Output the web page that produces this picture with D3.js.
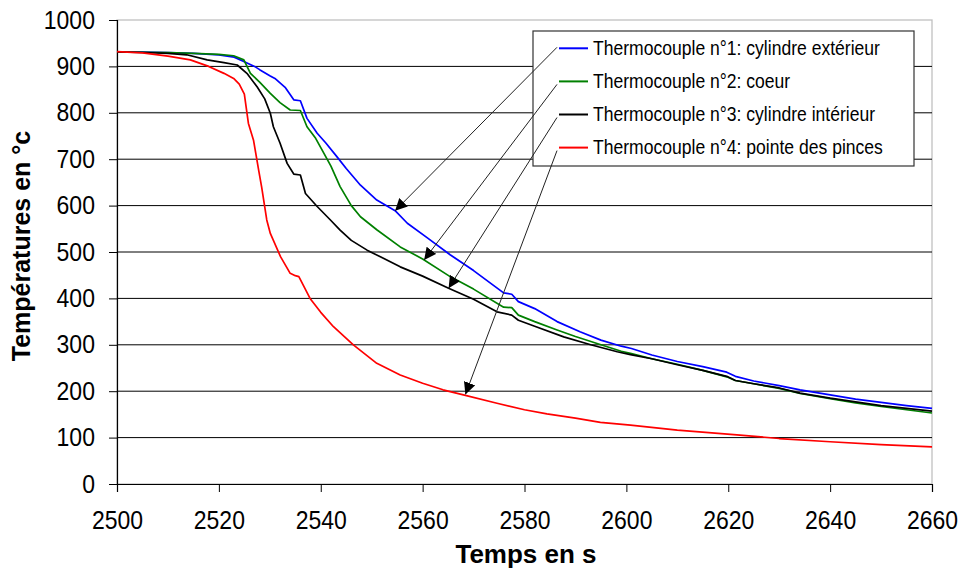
<!DOCTYPE html>
<html><head><meta charset="utf-8">
<script src="https://cdn.jsdelivr.net/npm/d3@7"></script>
<style>body{margin:0;background:#fff}svg{display:block}text{font-family:Arial,"Liberation Sans",sans-serif}</style>
</head><body><svg id="c" width="960" height="570"></svg>
<script>
const seriesNames = ["Thermocouple n°1: cylindre extérieur","Thermocouple n°2: coeur","Thermocouple n°3: cylindre intérieur","Thermocouple n°4: pointe des pinces"];
const seriesColors = ["#0000ff","#008000","#000000","#ff0000"];

const t1 = [2500,2505,2510,2515,2520,2523,2525,2527,2528,2530,2531,2533,2534.7,2536,2537.3,2539.3,2541,2543.2,2545,2547.8,2551,2554.6,2557,2561,2565.4,2570,2575.9,2577.5,2578.8,2582,2586.4,2590.9,2595,2599,2601,2605,2610,2615,2619.7,2621.4,2625,2630,2634.1,2640,2645,2650,2655,2660];
const v1 = [931,931,930,928,925,920,910,900,893,880,874,855,828,826,788,756,735,705,680,644,612,589,562,530,494,460,412,409,393,378,350,328,310,297,292,278,264,253,241,232,222,212,203,192,183,176,169,163];

const t2 = [2500,2510,2515,2520,2522.9,2524.9,2526.2,2528,2530.1,2532,2534,2536,2537.3,2539,2540.6,2542,2543.8,2546,2547.8,2551,2555.6,2560,2565.4,2570,2575.9,2577.5,2578.8,2582,2586.4,2590,2595,2599,2601,2605,2610,2615,2619.7,2621.4,2625,2630,2634.1,2640,2645,2650,2655,2660];
const v2 = [931,930,928,926,923,914,885,866,842,822,806,805,770,745,713,685,641,600,576,548,511,485,447,420,381,380,364,350,332,318,300,286,281,270,258,245,231,223,216,206,195,184,175,167,160,153];

const t3 = [2500,2505,2510,2513.7,2517.7,2521,2523.6,2525.5,2527.5,2529,2530.1,2530.7,2532,2533.4,2534.7,2536,2537,2539.3,2541.9,2543.8,2546,2549.1,2552,2555.6,2560,2565.1,2570,2574.6,2577.5,2578.8,2582,2587.7,2593,2598.2,2600.8,2605,2610,2615,2619.7,2621.4,2625,2630,2634.1,2640,2645,2650,2655,2660];
const v3 = [931,930,928,925,914,908,903,885,856,830,799,770,735,691,668,666,626,598,569,547,525,504,488,468,448,422,398,371,364,353,340,317,300,285,279,270,257,245,232,223,216,207,196,185,177,169,163,157];

const t4 = [2500,2505,2510,2514.4,2518,2521,2522.9,2524,2525,2525.8,2526.8,2527.8,2528.4,2529.4,2530.1,2532.1,2534,2535,2535.7,2537.9,2540,2542.5,2546.4,2551,2555.6,2560,2564,2568,2574.6,2580,2584.4,2590,2594.9,2600.8,2610,2621.7,2630,2640,2650,2660];
const v4 = [932,929,922,914,900,885,874,862,840,777,741,677,640,569,540,490,454,449,447,400,370,339,300,260,235,217,203,192,174,160,151,142,133,127,116,106,98,91,85,80];

const xTicks = [2500,2520,2540,2560,2580,2600,2620,2640,2660];
const yTicks = [0,100,200,300,400,500,600,700,800,900,1000];
// arrow targets (time, temperature) for each legend entry
const arrowT = [2554.6,2560.3,2565.1,2568.4];
const arrowV = [589,483,422,193];

const svg = d3.select("#c");
const m = {l:117,r:28,t:20,b:86};
const W = 960, H = 570;
const x = d3.scaleLinear().domain([2500,2660]).range([m.l, W-m.r]);
const y = d3.scaleLinear().domain([0,1000]).range([H-m.b, m.t]);

// plot border (light)
svg.append("rect").attr("x",m.l).attr("y",m.t).attr("width",W-m.r-m.l).attr("height",H-m.b-m.t)
  .attr("fill","none").attr("stroke","#c0c0c0").attr("stroke-width",1.3);

// gridlines
svg.append("g").selectAll("line").data(yTicks.filter(d=>d>0 && d<1000)).join("line")
  .attr("x1",m.l).attr("x2",W-m.r).attr("y1",d=>y(d)).attr("y2",d=>y(d))
  .attr("stroke","#000").attr("stroke-width",1);

// axes
const yAxis = svg.append("g").attr("transform",`translate(${m.l},0)`)
  .call(d3.axisLeft(y).tickValues(yTicks).tickSize(8).tickPadding(16).tickFormat(d3.format("d")));
const xAxis = svg.append("g").attr("transform",`translate(0,${H-m.b})`)
  .call(d3.axisBottom(x).tickValues(xTicks).tickSize(8).tickPadding(19).tickFormat(d3.format("d")));
[yAxis,xAxis].forEach(a=>{
  a.select(".domain").attr("stroke","#000").attr("stroke-width",1.2);
  a.selectAll(".tick line").attr("stroke","#000");
  a.selectAll("text").attr("fill","#000").attr("transform","scale(0.92,1)")
    .style("font-family","Arial, 'Liberation Sans', sans-serif").style("font-size","25px");
});

// series
const allT=[t1,t2,t3,t4], allV=[v1,v2,v3,v4];
const line = d3.line().x(d=>x(d[0])).y(d=>y(d[1]));
allT.forEach((ts,i)=>{
  const pts = ts.map((t,j)=>[t,allV[i][j]]);
  svg.append("path").datum(pts).attr("d",line).attr("fill","none")
    .attr("stroke",seriesColors[i]).attr("stroke-width",1.7).attr("stroke-linejoin","round");
});

// legend
const lg = {x:533,y:31,w:381,h:135,rowY0:48.3,rowDy:33.1};
svg.append("rect").attr("x",lg.x).attr("y",lg.y).attr("width",lg.w).attr("height",lg.h)
  .attr("fill","#fff").attr("stroke","#333").attr("stroke-width",1.2);
seriesNames.forEach((n,i)=>{
  const ry = lg.rowY0 + i*lg.rowDy;
  svg.append("line").attr("x1",559).attr("x2",588).attr("y1",ry).attr("y2",ry)
    .attr("stroke",seriesColors[i]).attr("stroke-width",2);
  svg.append("text").attr("transform",`translate(593,${ry+6.5}) scale(0.9,1)`)
    .style("font-size","19.5px").attr("fill","#000").text(n);
});

// arrows
const defs = svg.append("defs");
defs.append("marker").attr("id","ah").attr("viewBox","0 0 10 10").attr("refX",10).attr("refY",5)
  .attr("markerWidth",12).attr("markerHeight",12).attr("markerUnits","userSpaceOnUse").attr("orient","auto")
  .append("path").attr("d","M0,0 L10,5 L0,10 z").attr("fill","#000");
arrowT.forEach((t,i)=>{
  const ry = lg.rowY0 + i*lg.rowDy;
  svg.append("line").attr("x1",557).attr("y1",ry+ (i==0?-1:3)).attr("x2",x(t)).attr("y2",y(arrowV[i]))
    .attr("stroke","#222").attr("stroke-width",1).attr("marker-end","url(#ah)");
});

// titles
svg.append("text").attr("x",526).attr("y",563).attr("text-anchor","middle")
  .style("font-size","26px").style("font-weight","bold").attr("fill","#000").text("Temps en s");
svg.append("text").attr("transform","translate(30,246) rotate(-90)").attr("text-anchor","middle")
  .style("font-size","25px").style("font-weight","bold").attr("fill","#000").text("Températures en °c");
</script></body></html>
